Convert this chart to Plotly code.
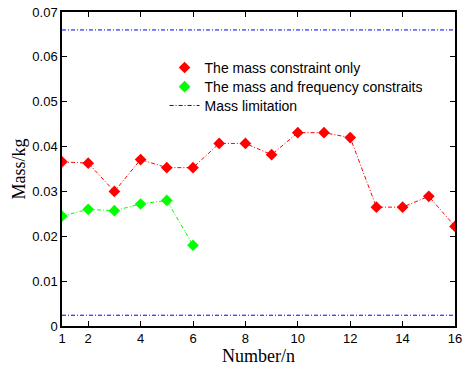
import plotly.graph_objects as go

numbers = list(range(1, 17))
mass_only = [0.0366, 0.0363, 0.0300, 0.0371, 0.0353, 0.0353, 0.0407, 0.0407,
             0.0382, 0.0431, 0.0431, 0.0420, 0.0265, 0.0265, 0.0289, 0.0222]
freq_numbers = list(range(1, 7))
mass_freq = [0.0245, 0.0260, 0.0257, 0.0272, 0.0280, 0.0180]
limit_x = [1, 16]
limit_upper = [0.066, 0.066]
limit_lower = [0.0024, 0.0024]
x_ticks = [1, 2, 4, 6, 8, 10, 12, 14, 16]
y_ticks = [0, 0.01, 0.02, 0.03, 0.04, 0.05, 0.06, 0.07]
y_ticklabels = ["0", "0.01", "0.02", "0.03", "0.04", "0.05", "0.06", "0.07"]

DASH = "4px,2px,1px,2px"

fig = go.Figure()
# connecting lines (no legend)
fig.add_trace(go.Scatter(x=numbers, y=mass_only, mode="lines",
                         line=dict(color="red", width=1, dash=DASH),
                         showlegend=False, hoverinfo="skip"))
fig.add_trace(go.Scatter(x=freq_numbers, y=mass_freq, mode="lines",
                         line=dict(color="#00ff00", width=1, dash=DASH),
                         showlegend=False, hoverinfo="skip"))
# markers (legend)
fig.add_trace(go.Scatter(x=numbers, y=mass_only, mode="markers",
                         marker=dict(symbol="diamond", color="red", size=9),
                         name="The mass constraint only", legend="legend"))
fig.add_trace(go.Scatter(x=freq_numbers, y=mass_freq, mode="markers",
                         marker=dict(symbol="diamond", color="#00ff00", size=9),
                         name="The mass and frequency constraits", legend="legend2"))
fig.add_trace(go.Scatter(x=limit_x, y=limit_upper, mode="lines",
                         line=dict(color="blue", width=1, dash=DASH),
                         name="Mass limitation", legend="legend3"))
fig.add_trace(go.Scatter(x=limit_x, y=limit_lower, mode="lines",
                         line=dict(color="blue", width=1, dash=DASH),
                         showlegend=False))

axis_common = dict(showline=True, linecolor="black", linewidth=1.5, mirror="ticks",
                   ticks="inside", ticklen=5, tickcolor="black", showgrid=False,
                   zeroline=False, automargin=False,
                   tickfont=dict(family="Liberation Sans, Arial", size=13, color="black"))

legend_font = dict(family="Liberation Sans, Arial", size=14, color="black")
legend_common = dict(xanchor="left", yanchor="top", bgcolor="rgba(0,0,0,0)",
                     borderwidth=0, itemwidth=30, font=legend_font)

fig.update_layout(
    width=468, height=366,
    margin=dict(l=62, r=13, t=12, b=40, autoexpand=False),
    paper_bgcolor="white", plot_bgcolor="white",
    xaxis=dict(range=[1, 16], tickvals=x_ticks,
               title=dict(text="Number/n", standoff=1,
                          font=dict(family="Liberation Serif, Times New Roman", size=18, color="black")),
               **axis_common),
    yaxis=dict(range=[0, 0.07], tickvals=y_ticks, ticktext=y_ticklabels,
               title=dict(text="Mass/kg", standoff=2,
                          font=dict(family="Liberation Serif, Times New Roman", size=18, color="black")),
               **axis_common),
    legend=dict(x=0.261, y=0.873, **legend_common),
    legend2=dict(x=0.261, y=0.812, **legend_common),
    legend3=dict(x=0.261, y=0.752, **legend_common),
    showlegend=True,
)

fig.write_html("out.html")
